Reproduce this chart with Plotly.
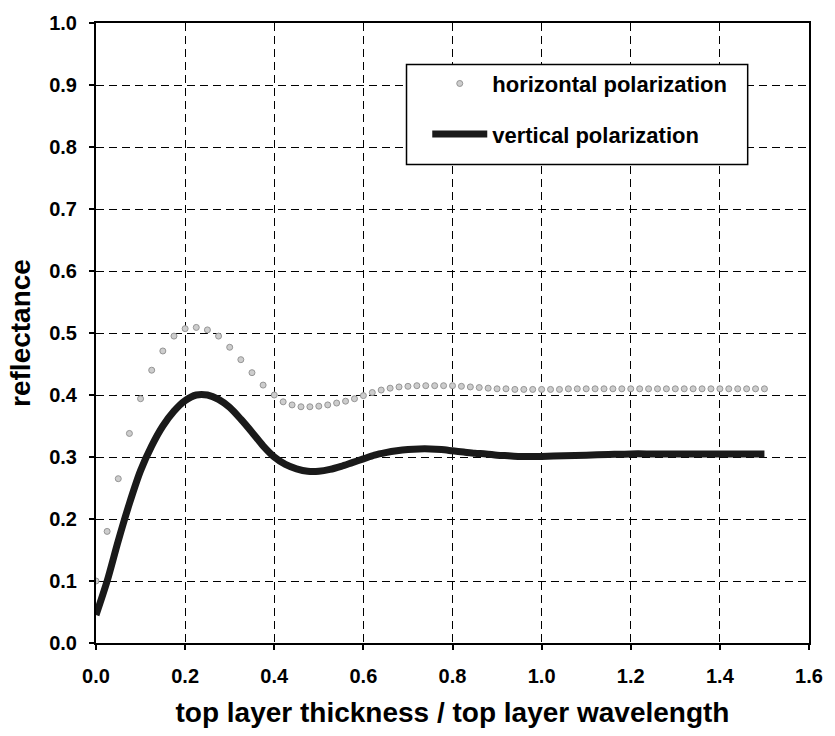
import plotly.graph_objects as go

# Reflectance vs. normalised top-layer thickness
thickness_h = [0.0, 0.025, 0.05, 0.075, 0.1, 0.125, 0.15, 0.175, 0.2, 0.225,
               0.25, 0.275, 0.3, 0.325, 0.35, 0.375, 0.4,
               0.42, 0.44, 0.46, 0.48, 0.50, 0.52, 0.54, 0.56, 0.58, 0.60,
               0.62, 0.64, 0.66, 0.68, 0.70, 0.72, 0.74, 0.76, 0.78, 0.80,
               0.82, 0.84, 0.86, 0.88, 0.90, 0.92, 0.94, 0.96, 0.98, 1.00,
               1.02, 1.04, 1.06, 1.08, 1.10, 1.12, 1.14, 1.16, 1.18, 1.20,
               1.22, 1.24, 1.26, 1.28, 1.30, 1.32, 1.34, 1.36, 1.38, 1.40,
               1.42, 1.44, 1.46, 1.48, 1.50]
refl_horizontal = [0.10, 0.18, 0.265, 0.338, 0.394, 0.44, 0.471, 0.495, 0.507, 0.509,
                   0.505, 0.495, 0.477, 0.457, 0.436, 0.416, 0.400,
                   0.389, 0.384, 0.381, 0.381, 0.382, 0.384, 0.387, 0.390, 0.394, 0.399,
                   0.404, 0.408, 0.411, 0.413, 0.414, 0.415, 0.415, 0.415, 0.415, 0.415,
                   0.414, 0.413, 0.412, 0.411, 0.410, 0.410, 0.409, 0.409, 0.409, 0.409,
                   0.409, 0.409, 0.410, 0.410, 0.410, 0.410, 0.410, 0.410, 0.410, 0.410,
                   0.410, 0.410, 0.410, 0.410, 0.410, 0.410, 0.410, 0.410, 0.410, 0.410,
                   0.410, 0.410, 0.410, 0.410, 0.410]

thickness_v = [0.0, 0.025, 0.05, 0.075, 0.1, 0.125, 0.15, 0.175, 0.2, 0.225,
               0.25, 0.275, 0.3, 0.325, 0.35, 0.375, 0.4, 0.425, 0.45, 0.475,
               0.5, 0.525, 0.55, 0.575, 0.6, 0.625, 0.65, 0.675, 0.7, 0.725,
               0.75, 0.775, 0.8, 0.825, 0.85, 0.875, 0.9, 0.925, 0.95, 0.975,
               1.0, 1.05, 1.1, 1.15, 1.2, 1.25, 1.3, 1.35, 1.4, 1.45, 1.5]
refl_vertical = [0.045, 0.10, 0.165, 0.225, 0.278, 0.318, 0.350, 0.374, 0.391, 0.400,
                 0.400, 0.393, 0.380, 0.361, 0.340, 0.318, 0.300, 0.288, 0.281, 0.277,
                 0.277, 0.280, 0.285, 0.291, 0.297, 0.303, 0.307, 0.310, 0.312, 0.313,
                 0.313, 0.312, 0.310, 0.308, 0.306, 0.305, 0.303, 0.302, 0.301, 0.301,
                 0.301, 0.302, 0.303, 0.304, 0.305, 0.305, 0.305, 0.305, 0.305, 0.305, 0.305]

x_ticks = [0.0, 0.2, 0.4, 0.6, 0.8, 1.0, 1.2, 1.4, 1.6]
y_ticks = [0.0, 0.1, 0.2, 0.3, 0.4, 0.5, 0.6, 0.7, 0.8, 0.9, 1.0]

FONT = "Liberation Sans"
TICK_FONT = dict(family=FONT, size=20, color="black", weight="bold")
TITLE_FONT = dict(family=FONT, size=28, color="black", weight="bold")

fig = go.Figure()
fig.add_trace(go.Scatter(
    x=thickness_h, y=refl_horizontal, mode="markers",
    name="horizontal polarization", legendgroup="h",
    marker=dict(symbol="circle", size=6, color="#cdcdcd",
                line=dict(color="#959595", width=1)),
))
fig.add_trace(go.Scatter(
    x=thickness_v, y=refl_vertical, mode="lines",
    name="vertical polarization", legendgroup="v",
    line=dict(color="#1a1a1a", width=7, shape="spline", smoothing=0.8),
))

axis_common = dict(
    showline=True, linecolor="black", linewidth=2, mirror=True,
    showgrid=True, gridcolor="black", gridwidth=1.3, griddash="8px,5px",
    ticks="outside", ticklen=5, tickwidth=1.5, tickcolor="black",
    tickfont=TICK_FONT, zeroline=False, tickformat=".1f",
)

fig.update_layout(
    width=835, height=736,
    margin=dict(l=96, r=18, t=17, b=93),
    paper_bgcolor="white", plot_bgcolor="white",
    font=dict(family=FONT, color="black"),
    xaxis=dict(range=[0, 1.6], tickvals=x_ticks, ticklabelstandoff=9,
               title=dict(text="top layer thickness / top layer wavelength",
                          font=TITLE_FONT, standoff=16),
               **axis_common),
    yaxis=dict(range=[0, 1.0], tickvals=y_ticks, ticklabelstandoff=8,
               title=dict(text="reflectance", font=TITLE_FONT, standoff=10),
               **axis_common),
    showlegend=True,
    legend=dict(
        x=0.4646, y=0.936, xanchor="left", yanchor="top",
        bgcolor="rgba(0,0,0,0)", borderwidth=0,
        font=dict(family=FONT, size=22, color="black", weight="bold"),
        traceorder="grouped", tracegroupgap=19, itemwidth=55,
    ),
    # legend frame
    shapes=[dict(type="rect", xref="paper", yref="paper",
                 x0=0.4355, x1=0.914, y0=0.7716, y1=0.9329,
                 line=dict(color="black", width=1.5),
                 fillcolor="white", layer="above")],
)

fig.write_html("out.html")
